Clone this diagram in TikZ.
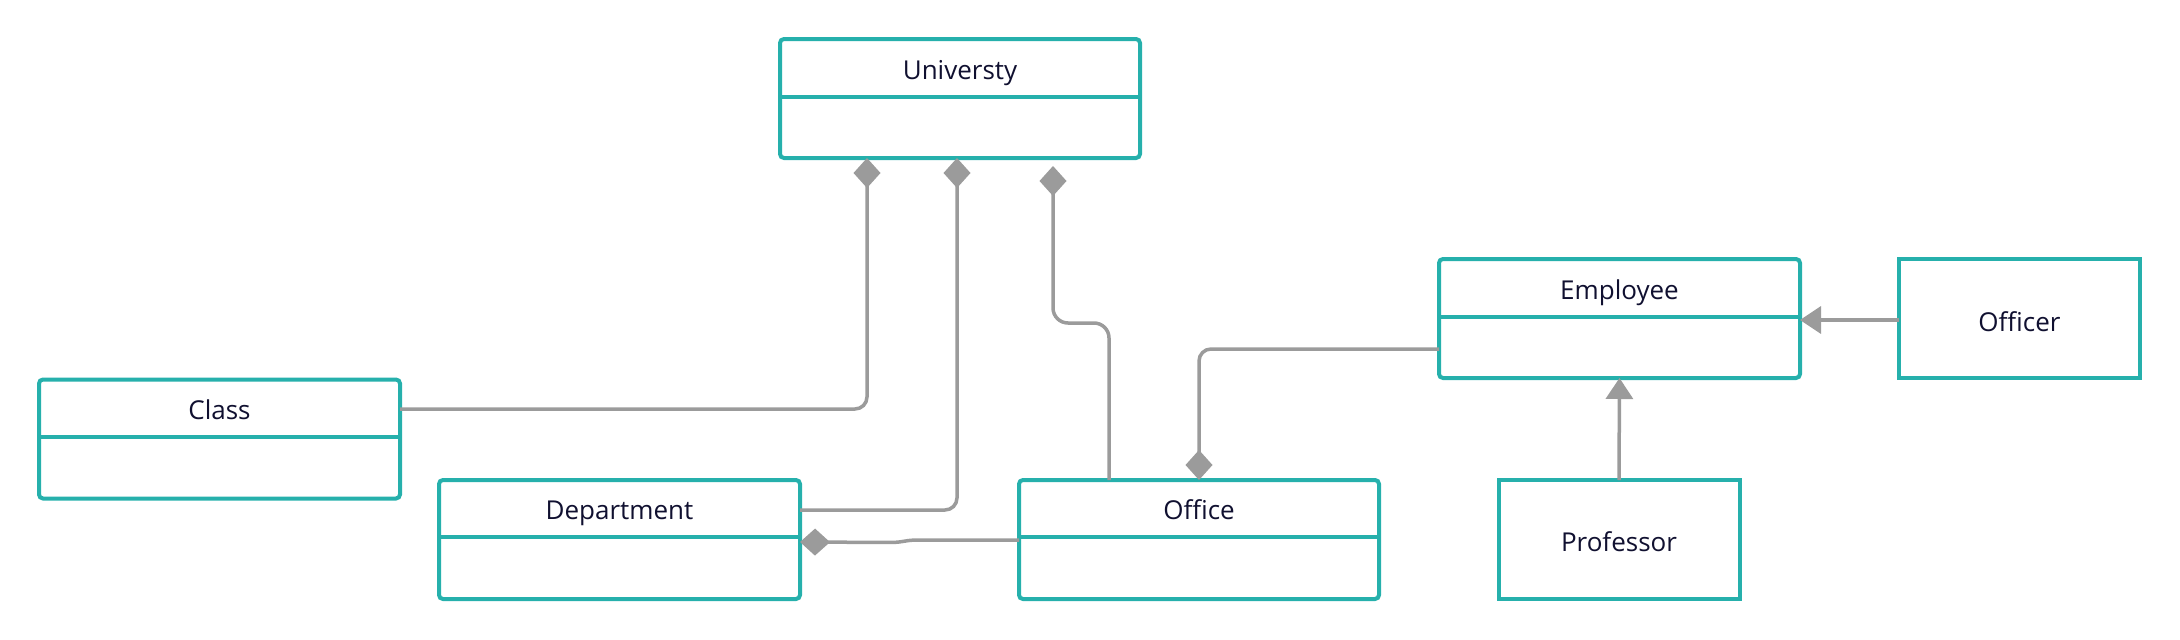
\documentclass[tikz,border=0pt]{standalone}
\usepackage{fontspec}
\setmainfont{Open Sans}
\usetikzlibrary{arrows.meta,calc}
\definecolor{teal1}{RGB}{38,176,172}
\definecolor{gline}{RGB}{155,155,155}
\definecolor{txt}{RGB}{16,16,48}
\tikzset{
  umlbox/.style={draw=teal1, line width=4pt, rounded corners=4pt, fill=white,
    minimum width=#1, minimum height=119pt, inner sep=0pt, outer sep=0pt},
  plainbox/.style={draw=teal1, line width=4pt, fill=white,
    minimum width=241pt, minimum height=119pt, inner sep=0pt, outer sep=0pt},
  lbl/.style={text=txt, font=\fontsize{26}{30}\selectfont, inner sep=0pt, anchor=base},
  divider/.style={draw=teal1, line width=3.5pt},
  conn/.style={draw=gline, line width=3.5pt, rounded corners=12pt},
  comp/.style={-{Diamond[length=30pt,width=27pt]}},
  gen/.style={-{Triangle[length=21pt,width=27pt]}},
}
\begin{document}
\begin{tikzpicture}[x=1pt,y=-1pt]
\useasboundingbox (0,0) rectangle (2180,640);
% boxes
\node[umlbox=360pt] (U) at (960,98.5) {};
\node[umlbox=361pt] (C) at (219.5,439) {};
\node[umlbox=361pt] (D) at (619.5,539.5) {};
\node[umlbox=360pt] (O) at (1199,539.5) {};
\node[umlbox=361pt] (E) at (1619.5,318.5) {};
\node[plainbox] (Of) at (2019.5,318.5) {};
\node[plainbox] (P) at (1619,539.5) {};
% dividers
\draw[divider] (U.west |- 0,97) -- (U.east |- 0,97);
\draw[divider] (C.west |- 0,437) -- (C.east |- 0,437);
\draw[divider] (D.west |- 0,537) -- (D.east |- 0,537);
\draw[divider] (O.west |- 0,537) -- (O.east |- 0,537);
\draw[divider] (E.west |- 0,317) -- (E.east |- 0,317);
% labels
\node[lbl] (Ut) at (960,79.5) {Universty};
\node[lbl] (Ct) at (219.5,419.5) {Class};
\node[lbl] (Dt) at (619.5,519) {Department};
\node[lbl] (Ot) at (1199,519) {Office};
\node[lbl] (Et) at (1619.5,299) {Employee};
\node[lbl] (Oft) at (2019.5,331) {Officer};
\node[lbl] (Pt) at (1619,551) {Professor};
% connectors
\draw[conn,comp] ($(C.north east)+(0,29.5)$) -| ($(U.south)+(-93,0)$);
\draw[conn,comp] ($(D.north east)+(0,30)$) -| ($(U.south)+(-3,0)$);
\draw[conn,comp,rounded corners=15pt] ($(O.north)+(-90,0)$) -- ++(0,-157) -| ($(U.south)+(93,8)$);
\draw[conn,comp] ($(E.west)+(0,30.5)$) -| (O.north);
\draw[conn,comp,rounded corners=5pt] ($(O.west)+(0,0.5)$) -- (912,540) -- (896,542.5) -- ($(D.east)+(0,2.5)$);
\draw[conn,gen] ($(Of.west)+(0,1.5)$) -- ($(E.east)+(0,1.5)$);
\draw[conn,gen] (P.north) -- (E.south);
\end{tikzpicture}
\end{document}
